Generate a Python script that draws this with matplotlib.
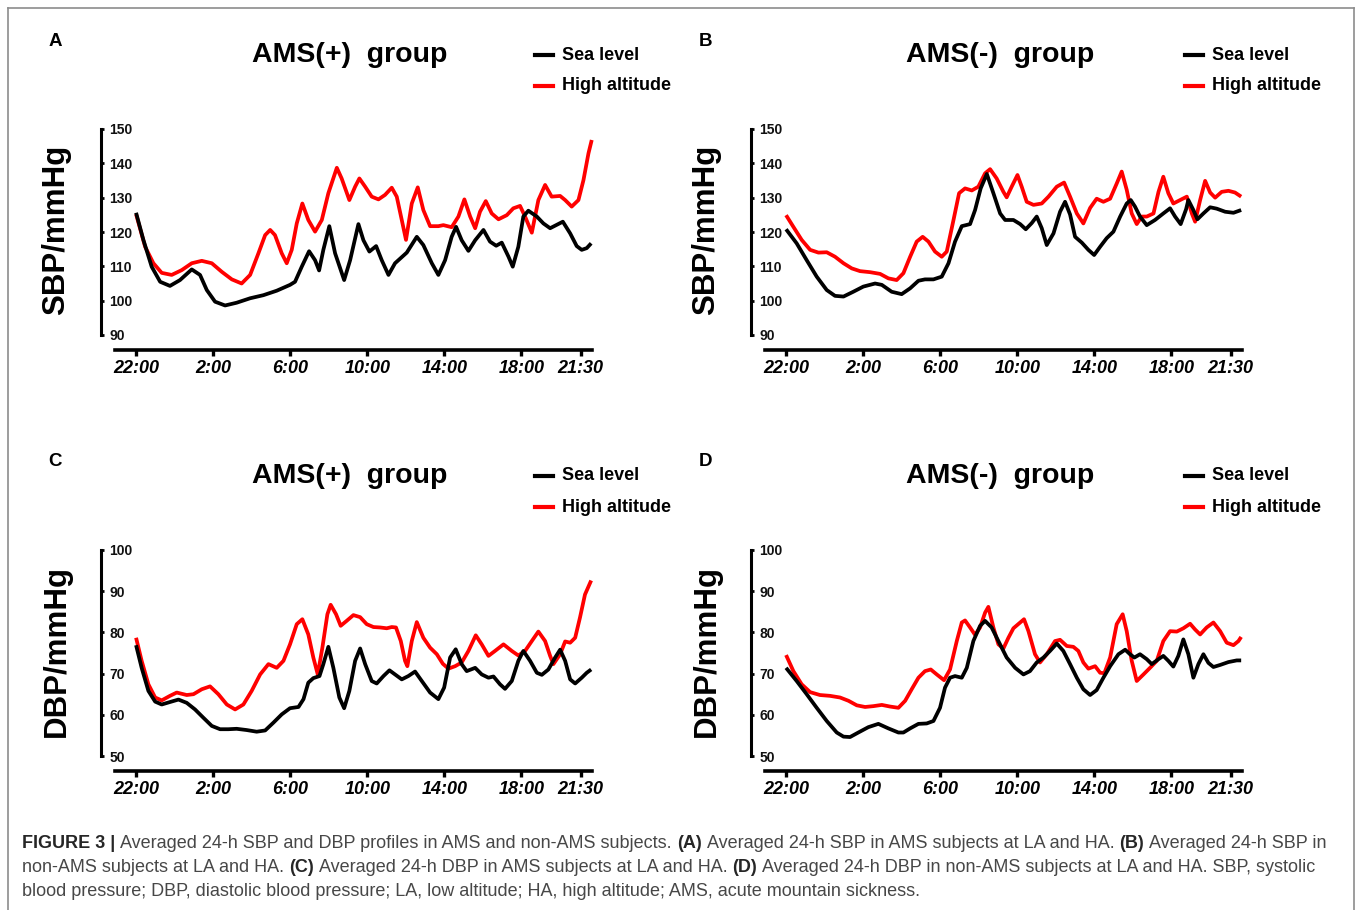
import matplotlib
matplotlib.use("Agg")
import matplotlib.pyplot as plt
from matplotlib.lines import Line2D

plt.rcParams['font.family'] = ['Liberation Sans', 'DejaVu Sans']

# ---------------- data (hours after 22:00, mmHg) ----------------
tick_pos = [0, 4, 8, 12, 16, 20, 23.08]
tick_labels = ["22:00", "2:00", "6:00", "10:00", "14:00", "18:00", "21:30"]
sbp_ticks = [90, 100, 110, 120, 130, 140, 150]
dbp_ticks = [50, 60, 70, 80, 90, 100]
series_names = ["Sea level", "High altitude"]
panel_titles = ["AMS(+)  group", "AMS(-)  group", "AMS(+)  group", "AMS(-)  group"]
panel_letters = ["A", "B", "C", "D"]

a_sea_t = [0.00,0.38,0.81,1.25,1.76,2.28,2.89,3.32,3.67,4.10,4.62,5.22,5.92,6.61,7.30,7.99,8.25,8.60,8.98,9.29,9.50,9.72,10.03,10.33,10.80,11.11,11.54,11.80,12.11,12.46,12.75,13.10,13.44,14.05,14.57,14.91,15.35,15.69,16.04,16.38,16.61,16.90,17.25,17.60,18.03,18.37,18.69,18.98,19.33,19.55,19.84,20.10,20.36,20.80,21.14,21.49,22.15,22.53,22.87,23.13,23.39,23.62]
a_sea_v = [125.6,117.7,109.9,105.5,104.3,106.0,109.1,107.5,103.1,99.7,98.6,99.4,100.7,101.6,102.9,104.6,105.5,109.9,114.4,111.8,108.8,114.8,121.7,113.8,106.0,111.8,122.3,117.6,114.3,115.9,111.8,107.5,110.9,114.0,118.6,116.2,110.9,107.5,111.8,118.6,121.5,117.6,114.5,117.6,120.6,117.2,116.0,116.9,112.8,109.9,115.7,124.5,126.2,124.5,122.5,121.1,123.0,119.6,115.9,114.8,115.3,116.7]
a_ha_t = [0,0.47,0.90,1.33,1.85,2.37,2.89,3.41,3.93,4.45,4.97,5.48,5.92,6.35,6.70,6.96,7.21,7.56,7.82,8.08,8.34,8.63,8.94,9.29,9.64,9.98,10.42,10.67,11.07,11.37,11.59,11.89,12.23,12.58,12.92,13.27,13.53,13.79,14.01,14.31,14.62,14.91,15.26,15.69,15.95,16.38,16.73,17.04,17.34,17.60,17.85,18.15,18.46,18.81,19.24,19.58,19.93,20.19,20.54,20.88,21.23,21.57,22.01,22.27,22.61,22.96,23.22,23.48,23.65]
a_ha_v = [125.2,115.7,110.9,108.1,107.5,108.9,110.9,111.6,110.9,108.4,106.2,105.0,107.5,113.8,119.1,120.6,119.1,113.8,110.9,114.8,122.5,128.3,123.5,120.1,123.5,131.3,138.7,135.6,129.3,133.2,135.6,133.2,130.3,129.5,130.8,132.9,130.3,123.5,117.7,128.3,133.0,126.4,121.7,121.7,122.0,121.4,124.5,129.5,124.5,121.1,125.9,129.0,125.4,123.7,124.9,126.9,127.6,124.5,119.8,129.3,133.7,130.3,130.5,129.3,127.4,129.3,135.1,142.9,146.8]

b_sea_t = [0,0.55,1.07,1.59,2.11,2.54,2.98,3.49,4.01,4.62,4.97,5.48,6.00,6.44,6.87,7.21,7.65,8.08,8.43,8.77,9.12,9.55,9.81,10.10,10.42,10.76,11.11,11.37,11.80,12.15,12.44,12.75,13.01,13.27,13.53,13.88,14.22,14.48,14.74,15.00,15.35,15.69,15.99,16.30,16.64,16.99,17.34,17.68,17.89,18.11,18.37,18.72,19.15,19.58,19.93,20.19,20.48,20.76,20.88,21.14,21.35,21.66,22.01,22.35,22.79,23.22,23.62]
b_sea_v = [120.8,116.7,111.8,107.0,103.1,101.4,101.2,102.6,104.1,105.0,104.6,102.6,101.9,103.6,105.8,106.2,106.2,107.0,110.9,117.2,121.7,122.3,126.4,132.7,136.9,131.3,125.4,123.5,123.5,122.3,120.8,122.6,124.5,121.1,116.2,119.6,125.9,128.8,125.1,118.6,116.9,114.8,113.3,115.7,118.2,120.1,124.5,128.3,129.3,127.4,124.5,122.0,123.5,125.4,126.9,124.5,122.3,126.6,129.3,126.4,123.7,125.4,127.2,126.8,125.9,125.6,126.4]
b_ha_t = [0,0.38,0.81,1.25,1.68,2.11,2.54,2.98,3.41,3.84,4.36,4.88,5.31,5.74,6.09,6.44,6.78,7.09,7.39,7.73,8.08,8.34,8.69,8.98,9.29,9.64,9.98,10.33,10.59,10.93,11.28,11.45,11.71,12.01,12.23,12.49,12.84,13.27,13.62,14.05,14.43,14.74,15.09,15.43,15.78,16.12,16.47,16.82,17.16,17.42,17.68,17.94,18.20,18.46,18.72,19.07,19.33,19.58,19.84,20.10,20.45,20.80,21.06,21.23,21.49,21.75,22.01,22.27,22.61,22.96,23.30,23.62]
b_ha_v = [124.9,121.5,117.7,114.8,114.0,114.1,112.8,110.9,109.4,108.6,108.3,107.8,106.5,106.0,108.0,112.8,117.2,118.6,117.2,114.3,112.8,114.3,123.5,131.3,132.7,132.1,133.2,137.1,138.3,135.6,131.7,130.1,133.2,136.6,133.2,128.8,127.9,128.3,130.3,133.2,134.4,130.3,125.4,122.5,127.0,129.7,128.8,129.7,134.1,137.6,132.3,125.4,122.3,124.5,124.5,125.4,131.7,136.1,131.3,128.3,129.3,130.3,125.4,123.0,129.3,134.9,131.5,130.0,131.7,132.0,131.5,130.3]

c_sea_t = [0,0.29,0.64,0.99,1.33,1.76,2.20,2.63,3.06,3.49,3.93,4.36,4.79,5.22,5.74,6.26,6.70,7.13,7.56,7.99,8.43,8.69,8.94,9.20,9.52,9.72,9.98,10.24,10.55,10.80,11.07,11.37,11.63,11.89,12.23,12.49,12.84,13.15,13.44,13.79,14.13,14.48,14.83,15.26,15.69,15.99,16.30,16.59,16.90,17.16,17.60,17.94,18.29,18.55,18.89,19.15,19.50,19.84,20.10,20.45,20.80,21.06,21.40,21.75,22.01,22.27,22.53,22.79,23.13,23.39,23.62]
c_sea_v = [76.9,71.4,65.8,63.2,62.5,63.1,63.7,62.9,61.3,59.3,57.3,56.5,56.5,56.6,56.3,55.9,56.2,58.1,60.1,61.6,61.9,63.8,67.8,68.9,69.4,72.3,76.5,71.4,64.2,61.6,65.8,73.1,76.1,72.3,68.2,67.6,69.4,70.8,69.8,68.6,69.4,70.5,68.2,65.4,63.8,66.6,73.9,75.9,72.3,70.6,71.4,69.8,69.0,69.3,67.4,66.3,68.2,73.1,75.5,73.1,70.2,69.7,71.0,73.9,75.8,73.1,68.6,67.6,69.0,70.2,71.0]
c_ha_t = [0,0.29,0.64,0.99,1.33,1.76,2.11,2.63,2.98,3.41,3.84,4.27,4.71,5.14,5.57,6.00,6.44,6.87,7.30,7.65,7.99,8.34,8.63,8.94,9.20,9.43,9.67,9.93,10.10,10.38,10.62,10.93,11.28,11.63,11.97,12.32,12.66,13.01,13.27,13.49,13.74,13.96,14.08,14.31,14.57,14.91,15.26,15.61,15.92,16.21,16.56,16.90,17.25,17.63,17.94,18.29,18.63,19.07,19.50,19.84,20.19,20.54,20.88,21.23,21.49,21.66,22.01,22.27,22.53,22.79,23.04,23.30,23.62]
c_ha_v = [78.7,73.1,67.4,64.2,63.5,64.6,65.4,64.8,65.0,66.2,66.9,65.0,62.5,61.3,62.5,65.8,69.8,72.3,71.4,73.1,77.1,82.0,83.2,79.5,73.9,69.8,76.3,84.4,86.7,84.4,81.6,82.8,84.2,83.7,82.0,81.3,81.2,81.0,81.3,81.2,77.9,73.1,71.8,77.9,82.5,78.7,76.3,74.7,72.4,71.2,71.8,72.7,75.5,79.3,77.1,74.3,75.5,77.1,75.5,74.4,75.5,77.9,80.2,77.9,74.3,72.3,74.7,77.8,77.5,78.7,83.6,89.2,92.6]

d_sea_t = [0,0.55,1.07,1.59,2.11,2.63,2.98,3.32,3.75,4.27,4.79,5.31,5.83,6.09,6.44,6.87,7.30,7.65,7.99,8.25,8.51,8.77,9.12,9.38,9.72,10.07,10.33,10.67,11.02,11.45,11.89,12.32,12.66,13.01,13.36,13.70,14.05,14.39,14.74,15.09,15.43,15.78,16.12,16.47,16.82,17.25,17.60,17.85,18.08,18.37,18.72,18.98,19.33,19.58,19.84,20.10,20.36,20.62,20.88,21.14,21.40,21.66,21.92,22.18,22.53,22.96,23.39,23.62]
d_sea_v = [71.4,68.2,65.0,61.7,58.5,55.7,54.7,54.6,55.7,57.0,57.8,56.7,55.7,55.7,56.7,57.8,57.9,58.5,61.7,66.6,69.0,69.4,69.0,71.4,77.9,81.6,82.8,81.2,77.9,73.9,71.4,69.8,70.6,72.7,73.9,75.5,77.3,75.5,72.3,69.0,66.2,64.8,66.0,69.0,71.8,74.7,75.8,74.7,73.9,74.7,73.5,72.3,73.5,74.3,73.1,71.7,74.3,78.3,74.7,69.0,72.3,74.7,72.6,71.6,72.1,72.8,73.2,73.2]
d_ha_t = [0,0.38,0.81,1.25,1.76,2.28,2.80,3.24,3.67,4.10,4.53,4.97,5.40,5.83,6.18,6.52,6.87,7.21,7.51,7.82,8.20,8.51,8.86,9.12,9.29,9.55,9.81,10.07,10.33,10.50,10.76,11.02,11.28,11.54,11.80,12.15,12.35,12.58,12.92,13.18,13.53,13.96,14.22,14.57,14.91,15.17,15.43,15.69,16.04,16.30,16.52,16.82,17.16,17.47,17.68,17.94,18.20,18.55,18.89,19.24,19.58,19.93,20.28,20.62,20.97,21.23,21.49,21.83,22.18,22.53,22.87,23.22,23.48,23.62]
d_ha_v = [74.5,70.6,67.4,65.5,64.8,64.6,64.2,63.4,62.3,61.9,62.1,62.4,62.0,61.7,63.4,66.2,69.0,70.6,71.0,69.8,68.4,71.0,77.9,82.4,82.9,81.2,79.4,81.2,84.8,86.2,81.2,77.1,76.1,78.7,81.0,82.4,83.2,80.3,74.7,72.7,74.7,77.9,78.2,76.7,76.5,75.5,72.7,71.2,71.8,70.2,70.1,73.9,82.0,84.4,80.3,73.1,68.2,69.8,71.4,73.1,77.9,80.3,80.2,81.0,82.1,80.7,79.5,81.2,82.4,80.3,77.5,76.9,77.9,78.9]

# ---------------- figure ----------------
W, H = 1357, 910
fig = plt.figure(figsize=(W / 100, H / 100), dpi=100)
fig.patch.set_facecolor("white")

SEA_C = "#000000"
HA_C = "#ff0000"
AX_W_PX = 491.7
AX_H_PX = 221.0
TICK_SPAN_PX = 206.0


def fx(px):
    return px / W


def fy(py):
    return 1 - py / H


def panel(left_px, top_px, yticks, ylabel, title, letter, st, sv, ht, hv):
    ax = fig.add_axes([fx(left_px), fy(top_px + AX_H_PX), AX_W_PX / W, AX_H_PX / H])
    ax.set_facecolor("none")
    ax.set_xlim(-1.82, 23.7)
    span = yticks[-1] - yticks[0]
    ymin = yticks[0] - 15.0 * span / TICK_SPAN_PX
    ax.set_ylim(ymin, yticks[-1])

    ax.plot(ht, hv, color=HA_C, lw=2.7, solid_joinstyle="round", solid_capstyle="butt", clip_on=False, zorder=3)
    ax.plot(st, sv, color=SEA_C, lw=2.7, solid_joinstyle="round", solid_capstyle="butt", clip_on=False, zorder=4)

    for s in ("top", "right"):
        ax.spines[s].set_visible(False)
    ax.spines["left"].set_bounds(yticks[0], yticks[-1])
    ax.spines["left"].set_linewidth(2.2)
    ax.spines["bottom"].set_bounds(-1.1, 23.66)
    ax.spines["bottom"].set_linewidth(2.6)

    ax.set_yticks(yticks)
    ax.set_yticklabels([str(v) for v in yticks])
    ax.tick_params(axis="y", direction="in", length=2.5, width=2.0, pad=-6.2, labelsize=10)
    for lbl in ax.get_yticklabels():
        lbl.set_horizontalalignment("left")
        lbl.set_fontweight("bold")
        lbl.set_color("#111111")

    ax.set_xticks(tick_pos)
    ax.set_xticklabels(tick_labels)
    ax.tick_params(axis="x", direction="out", length=4, width=2.4, pad=3.5, labelsize=13)
    for lbl in ax.get_xticklabels():
        lbl.set_fontweight("bold")
        lbl.set_fontstyle("italic")

    yc = top_px + TICK_SPAN_PX / 2 - 2
    fig.text(fx(left_px - 44.5), fy(yc), ylabel, rotation=90, ha="center", va="center",
             fontsize=22.5, fontweight="bold", color="#000000")
    fig.text(fx(left_px + 249), fy(top_px - 74), title, ha="center", va="center",
             fontsize=20.5, fontweight="bold", color="#000000")
    fig.text(fx(left_px - 46), fy(top_px - 88), letter, ha="center", va="center",
             fontsize=13.5, fontweight="bold", color="#000000")
    for i, (nm, col) in enumerate(zip(series_names, [SEA_C, HA_C])):
        yy = top_px - 74 + i * 31
        fig.add_artist(Line2D([fx(left_px + 434), fx(left_px + 452)], [fy(yy), fy(yy)],
                              color=col, lw=3.0, transform=fig.transFigure))
        fig.text(fx(left_px + 461), fy(yy), nm, ha="left", va="center",
                 fontsize=13, fontweight="bold", color="#000000")
    return ax


panel(101, 129, sbp_ticks, "SBP/mmHg", panel_titles[0], panel_letters[0], a_sea_t, a_sea_v, a_ha_t, a_ha_v)
panel(751, 129, sbp_ticks, "SBP/mmHg", panel_titles[1], panel_letters[1], b_sea_t, b_sea_v, b_ha_t, b_ha_v)
panel(101, 550, dbp_ticks, "DBP/mmHg", panel_titles[2], panel_letters[2], c_sea_t, c_sea_v, c_ha_t, c_ha_v)
panel(751, 550, dbp_ticks, "DBP/mmHg", panel_titles[3], panel_letters[3], d_sea_t, d_sea_v, d_ha_t, d_ha_v)

# frame
frame_c = "#8c8c8c"
fig.add_artist(Line2D([fx(8), fx(8)], [0, fy(8)], color=frame_c, lw=1.2, transform=fig.transFigure))
fig.add_artist(Line2D([fx(8), fx(1354)], [fy(8), fy(8)], color=frame_c, lw=1.2, transform=fig.transFigure))
fig.add_artist(Line2D([fx(1354), fx(1354)], [0, fy(8)], color=frame_c, lw=1.2, transform=fig.transFigure))

# caption
cap_lines = [
    [("FIGURE 3 |", True), ("Averaged 24-h SBP and DBP profiles in AMS and non-AMS subjects.", False),
     ("(A)", True), ("Averaged 24-h SBP in AMS subjects at LA and HA.", False),
     ("(B)", True), ("Averaged 24-h SBP in", False)],
    [("non-AMS subjects at LA and HA.", False), ("(C)", True),
     ("Averaged 24-h DBP in AMS subjects at LA and HA.", False), ("(D)", True),
     ("Averaged 24-h DBP in non-AMS subjects at LA and HA. SBP, systolic", False)],
    [("blood pressure; DBP, diastolic blood pressure; LA, low altitude; HA, high altitude; AMS, acute mountain sickness.", False)],
]
cax = fig.add_axes([0, 0, 1, 1])
cax.set_axis_off()
cax.set_xlim(0, 1)
cax.set_ylim(0, 1)
CAP_FS = 12.95
CAP_FAMILY = ["Liberation Sans", "DejaVu Sans"]
space_pt = 0.278 * CAP_FS
for li, pieces in enumerate(cap_lines):
    ybase = 847.5 + li * 24.2
    prev = None
    for txt, bold in pieces:
        col = "#262626" if bold else "#474747"
        fw = "bold" if bold else "normal"
        if prev is None:
            prev = cax.text(fx(22), fy(ybase), txt, ha="left", va="baseline", fontsize=CAP_FS,
                            fontweight=fw, color=col, family=CAP_FAMILY)
        else:
            prev = cax.annotate(txt, xy=(1, 0), xycoords=prev, xytext=(space_pt, 0),
                                textcoords="offset points", ha="left", va="bottom",
                                fontsize=CAP_FS, fontweight=fw, color=col, family=CAP_FAMILY)

fig.savefig("out.png", dpi=100, facecolor="white")
